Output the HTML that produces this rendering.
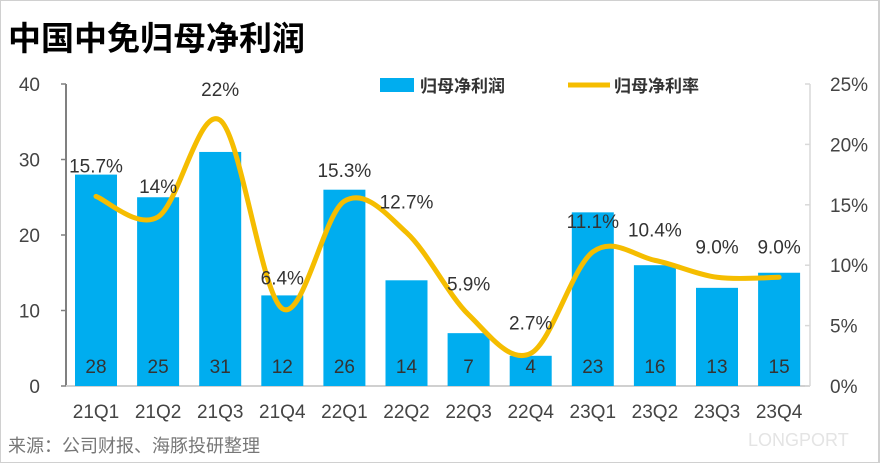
<!DOCTYPE html>
<html><head><meta charset="utf-8"><style>
body{margin:0;background:#fff;}
svg{display:block;font-family:"Liberation Sans","Noto Sans CJK SC",sans-serif;}
</style></head><body>
<svg id="chart" width="881" height="463">
<rect x="0" y="0" width="879" height="463" fill="#fff" stroke="#d0d0d0" stroke-width="2"/>
<text x="8" y="50" font-size="33" font-weight="bold" fill="#000" font-family="'Noto Sans CJK SC',sans-serif">中国中免归母净利润</text>
<g id="axes"></g><g id="bars"></g><g id="line"></g><g id="labels"></g>
<rect x="380" y="78" width="34" height="14" fill="#00adef"/>
<text x="420" y="92" font-size="17" font-weight="bold" fill="#333" font-family="'Noto Sans CJK SC',sans-serif">归母净利润</text>
<line x1="568" y1="85" x2="610" y2="85" stroke="#f5bd00" stroke-width="5"/>
<text x="614" y="92" font-size="17" font-weight="bold" fill="#333" font-family="'Noto Sans CJK SC',sans-serif">归母净利率</text>
<text x="8" y="452" font-size="18" fill="#777" font-family="'Noto Sans CJK SC',sans-serif">来源：公司财报、海豚投研整理</text>
<text x="748" y="446" font-size="18" fill="#e4e4e4">LONGPORT</text>
</svg>
<script>
const categories=["21Q1","21Q2","21Q3","21Q4","22Q1","22Q2","22Q3","22Q4","23Q1","23Q2","23Q3","23Q4"];
const profit=[28,25,31,12,26,14,7,4,23,16,13,15];
const margin=[15.7,14,22,6.4,15.3,12.7,5.9,2.7,11.1,10.4,9.0,9.0];
const marginLabels=["15.7%","14%","22%","6.4%","15.3%","12.7%","5.9%","2.7%","11.1%","10.4%","9.0%","9.0%"];
const leftTicks=[0,10,20,30,40];
const rightTicks=[0,5,10,15,20,25];
const NS="http://www.w3.org/2000/svg";
const y0=386,y1=84,xL=66,xR=810,x0=96,step=62.1,bw=42;
const yL=v=>y0-(v/40)*(y0-y1);
const yR=v=>y0-(v/25)*(y0-y1);
const xC=i=>x0+i*step;
function mk(tag,attrs,parent,text){const e=document.createElementNS(NS,tag);for(const k in attrs)e.setAttribute(k,attrs[k]);if(text!==undefined)e.textContent=text;document.getElementById(parent).appendChild(e);return e;}
let e;
e=mk("line",{x1:xL,y1:y1,x2:xL,y2:y0,stroke:"#808080","stroke-width":2},"axes");


e=mk("line",{x1:xR,y1:y1,x2:xR,y2:y0,stroke:"#d9d9d9","stroke-width":1.5},"axes");


e=mk("line",{x1:xL,y1:y0,x2:xR,y2:y0,stroke:"#d0d0d0","stroke-width":2},"axes");


leftTicks.forEach(t=>{
 e=mk("line",{x1:xL-5,y1:yL(t),x2:xL,y2:yL(t),stroke:"#808080","stroke-width":1.5},"axes");
 
 
 e=mk("text",{x:40,y:yL(t)+7,"font-size":19,fill:"#444","text-anchor":"end"},"axes",String(t));
 
 
});
rightTicks.forEach(t=>{
 e=mk("line",{x1:xR-5,y1:yR(t),x2:xR,y2:yR(t),stroke:"#d9d9d9","stroke-width":1.5},"axes");
 
 
 e=mk("text",{x:830,y:yR(t)+7,"font-size":19,fill:"#444"},"axes",t+"%");
 
 
});
categories.forEach((c,i)=>{
 e=mk("rect",{x:xC(i)-bw/2,y:yL(profit[i]),width:bw,height:y0-yL(profit[i]),fill:"#00adef"},"bars");
 
 
 e=mk("text",{x:xC(i),y:373,"font-size":19,fill:"#333","text-anchor":"middle"},"labels",String(profit[i]));
 
 
 e=mk("text",{x:xC(i),y:418,"font-size":19,fill:"#444","text-anchor":"middle"},"labels",c);
 
 
 e=mk("text",{x:xC(i),y:yR(margin[i])-24,"font-size":19,fill:"#333","text-anchor":"middle"},"labels",marginLabels[i]);
 
 
});
const pts=margin.map((m,i)=>[xC(i),yR(m)]);
let d="M"+pts[0][0]+","+pts[0][1];
for(let i=0;i<pts.length-1;i++){
 const p0=pts[Math.max(0,i-1)],p1=pts[i],p2=pts[i+1],p3=pts[Math.min(pts.length-1,i+2)];
 const t=0.5/3*2;
 const c1=[p1[0]+(p2[0]-p0[0])*t/2,p1[1]+(p2[1]-p0[1])*t/2];
 const c2=[p2[0]-(p3[0]-p1[0])*t/2,p2[1]-(p3[1]-p1[1])*t/2];
 d+=` C${c1[0]},${c1[1]} ${c2[0]},${c2[1]} ${p2[0]},${p2[1]}`;
}
e=mk("path",{d:d,fill:"none",stroke:"#f5bd00","stroke-width":5,"stroke-linecap":"round"},"line");


</script>
</body></html>
